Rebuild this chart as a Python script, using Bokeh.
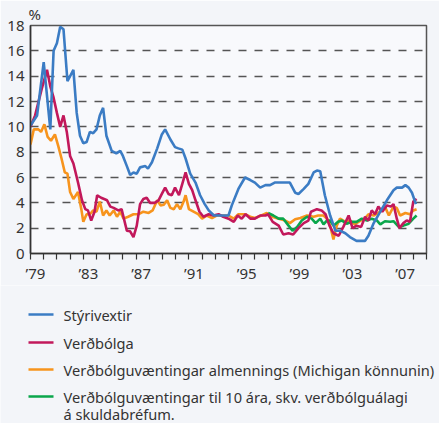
from bokeh.plotting import figure
from bokeh.models import Range1d, FixedTicker
from bokeh.layouts import column
from bokeh.embed import file_html
from bokeh.resources import INLINE
from bokeh.core.properties import value

FONT = "Noto Sans"

# ---- data ----
styri_x = [1979.0, 1979.5, 1980.0, 1980.5, 1980.75, 1981.0, 1981.25, 1981.5, 1981.8, 1982.25, 1982.5,
           1982.75, 1983.0, 1983.25, 1983.5, 1983.75, 1984.0, 1984.25, 1984.5, 1984.75, 1985.15, 1985.5,
           1985.8, 1986.0, 1986.3, 1986.55, 1986.8, 1987.05, 1987.3, 1987.7, 1987.9, 1988.2, 1988.6,
           1988.95, 1989.2, 1989.6, 1989.95, 1990.2, 1990.5, 1990.75, 1991.1, 1991.5, 1991.85, 1992.2,
           1992.5, 1992.9, 1994.0, 1994.25, 1994.75, 1995.25, 1995.65, 1996.0, 1996.4, 1996.8, 1997.15,
           1997.5, 1998.0, 1998.65, 1999.05, 1999.3, 1999.7, 2000.05, 2000.45, 2000.7, 2000.95, 2001.3,
           2001.7, 2002.1, 2002.45, 2002.85, 2003.2, 2003.7, 2004.35, 2004.6, 2005.0, 2005.5, 2006.0,
           2006.5, 2006.75, 2007.15, 2007.4, 2007.65, 2007.9, 2008.2]
styri_y = [10.1, 10.9, 15.1, 9.8, 16.0, 16.6, 17.9, 17.7, 13.6, 14.5, 11.1,
           9.3, 8.7, 8.8, 9.6, 9.5, 9.8, 10.9, 11.5, 9.3, 8.1, 7.9,
           8.1, 7.7, 6.9, 6.2, 6.4, 6.3, 6.8, 6.9, 6.7, 7.2, 8.3,
           9.4, 9.8, 9.0, 8.4, 8.3, 8.2, 7.5, 6.3, 5.6, 4.6, 3.9,
           3.4, 3.0, 3.0, 3.8, 5.1, 6.0, 5.8, 5.6, 5.2, 5.4, 5.4,
           5.6, 5.6, 5.6, 4.8, 4.7, 5.1, 5.5, 6.4, 6.55, 6.5, 4.6,
           3.0, 1.8, 1.8, 1.6, 1.3, 1.0, 1.0, 1.4, 2.4, 3.3, 4.2,
           5.0, 5.2, 5.2, 5.4, 5.2, 4.8, 3.9]

verdbolga_x = [1979.0, 1979.35, 1979.85, 1980.25, 1980.5, 1980.75, 1981.0, 1981.25, 1981.5, 1981.75,
               1982.0, 1982.25, 1982.6, 1982.9, 1983.15, 1983.35, 1983.6, 1983.85, 1984.05, 1984.35,
               1984.8, 1985.05, 1985.3, 1985.65, 1985.9, 1986.3, 1986.55, 1986.8, 1987.05, 1987.3,
               1987.55, 1987.8, 1988.05, 1988.4, 1988.7, 1988.95, 1989.2, 1989.45, 1989.7, 1989.95,
               1990.25, 1990.5, 1990.75, 1991.0, 1991.25, 1991.5, 1991.8, 1992.1, 1992.5, 1992.85,
               1993.25, 1993.6, 1994.0, 1994.4, 1994.7, 1995.0, 1995.3, 1995.65, 1996.0, 1996.4,
               1996.8, 1997.0, 1997.35, 1997.8, 1998.15, 1998.55, 1998.9, 1999.3, 1999.7, 2000.05,
               2000.25, 2000.7, 2001.05, 2001.35, 2001.65, 2001.95, 2002.35, 2002.7, 2003.1, 2003.4,
               2003.7, 2004.05, 2004.35, 2004.6, 2004.85, 2005.1, 2005.35, 2005.65, 2006.0, 2006.3,
               2006.5, 2006.75, 2006.95, 2007.25, 2007.5, 2007.75, 2008.0, 2008.25]
verdbolga_y = [10.0, 10.9, 13.0, 14.5, 13.2, 12.3, 11.1, 10.0, 10.9, 9.6,
               7.7, 7.1, 5.6, 4.2, 3.5, 3.4, 2.6, 3.3, 4.6, 4.4,
               4.2, 3.7, 3.6, 3.4, 3.5, 1.8, 1.75, 1.3, 2.2, 3.9,
               4.3, 4.4, 4.0, 4.0, 4.2, 4.7, 5.2, 4.7, 4.6, 5.2,
               4.6, 5.5, 6.4, 5.5, 5.0, 4.2, 3.3, 2.9, 3.1, 3.0,
               3.1, 2.9, 2.75, 2.5, 3.0, 2.75, 3.1, 2.75, 2.75, 3.0,
               3.0, 3.1, 2.5, 2.2, 1.5, 1.6, 1.5, 2.0, 2.4, 2.6,
               3.3, 3.5, 3.4, 3.1, 2.2, 1.6, 1.4, 2.1, 3.0, 2.0,
               2.2, 2.1, 2.9, 2.6, 3.4, 3.1, 3.7, 3.3, 3.8, 3.7,
               3.9, 2.75, 2.0, 2.4, 2.6, 2.5, 4.1, 4.3]

michigan_x = [1979.0, 1979.25, 1979.6, 1979.8, 1980.05, 1980.3, 1980.55, 1980.85, 1981.1, 1981.35,
              1981.6, 1981.8, 1982.0, 1982.25, 1982.6, 1982.85, 1983.0, 1983.25, 1983.5, 1983.75,
              1984.0, 1984.25, 1984.5, 1984.75, 1985.0, 1985.3, 1985.55, 1985.8, 1986.05, 1986.4,
              1986.8, 1987.2, 1987.55, 1987.95, 1988.25, 1988.6, 1988.85, 1989.1, 1989.35, 1989.6,
              1989.85, 1990.1, 1990.35, 1990.6, 1990.75, 1991.0, 1991.35, 1991.7, 1992.0, 1992.35,
              1992.75, 1993.1, 1993.5, 1994.0, 1994.4, 1994.75, 1995.25, 1995.65, 1996.0, 1996.5,
              1996.9, 1997.3, 1997.8, 1998.3, 1998.65, 1999.05, 1999.45, 1999.95, 2000.45, 2000.8,
              2001.2, 2001.45, 2001.7, 2001.95, 2002.2, 2002.45, 2002.85, 2003.2, 2003.55, 2003.85,
              2004.35, 2004.6, 2005.0, 2005.35, 2005.85, 2006.15, 2006.5, 2006.75, 2007.0, 2007.4,
              2007.75, 2008.0, 2008.25]
michigan_y = [8.6, 9.8, 9.8, 9.6, 10.2, 9.2, 8.9, 9.4, 8.5, 7.5,
              6.4, 6.3, 4.85, 4.3, 4.85, 3.5, 2.5, 3.1, 3.1, 3.4,
              3.3, 4.1, 3.0, 3.4, 3.0, 3.4, 2.9, 3.3, 2.75, 2.9,
              3.1, 3.1, 3.3, 3.2, 3.4, 4.2, 3.8, 3.85, 4.2, 3.6,
              3.5, 3.9, 3.5, 4.1, 4.6, 3.5, 3.3, 3.1, 2.75, 3.0,
              2.8, 3.0, 3.0, 3.0, 2.75, 3.1, 3.1, 2.9, 2.8, 3.0,
              3.2, 2.9, 2.75, 2.6, 2.4, 2.7, 2.8, 3.0, 2.9, 3.0,
              3.0, 2.75, 2.2, 1.1, 2.2, 2.75, 2.5, 2.6, 2.3, 2.5,
              2.8, 3.1, 3.0, 3.2, 3.7, 3.0, 3.7, 3.6, 3.0, 3.2,
              3.1, 3.4, 3.5]

skulda_x = [1997.0, 1997.4, 1997.8, 1998.15, 1998.55, 1998.85, 1999.2, 1999.55, 1999.95, 2000.3,
            2000.6, 2000.95, 2001.2, 2001.45, 2001.7, 2001.95, 2002.3, 2002.6, 2002.95, 2003.35,
            2003.7, 2004.1, 2004.5, 2004.85, 2005.25, 2005.5, 2005.85, 2006.25, 2006.5, 2006.9,
            2007.25, 2007.65, 2008.0, 2008.25]
skulda_y = [3.2, 3.0, 2.75, 2.75, 2.2, 1.8, 2.1, 2.6, 2.9, 2.75,
            2.4, 2.75, 2.3, 2.6, 2.6, 2.2, 2.5, 2.6, 2.35, 2.5,
            2.5, 2.75, 2.6, 2.75, 2.6, 2.3, 2.55, 2.5, 2.55, 2.1,
            2.2, 2.35, 2.75, 3.0]

year_ticks = list(range(1979, 2010))
label_years = [1979, 1983, 1987, 1991, 1995, 1999, 2003, 2007]
y_ticks = [0, 2, 4, 6, 8, 10, 12, 14, 16, 18]
grid_ticks = [2, 4, 6, 8, 10, 12, 14, 16]

series_names = ["Stýrivextir", "Verðbólga",
                "Verðbólguvæntingar almennings (Michigan könnunin)",
                "Verðbólguvæntingar til 10 ára, skv. verðbólguálagi"]
series_extra_line = "á skuldabréfum."
unit_label = "%"

BLUE = "#3b7cc4"
RED = "#c2185b"
ORANGE = "#f7941d"
GREEN = "#0aa64b"
TEXT = "#333333"
BG = "#f3f5f9"
PLOT_BG = "#f8f9fc"

# ---- chart ----
p = figure(width=439, height=285, x_range=Range1d(1979, 2009), y_range=Range1d(0, 18),
           output_backend="svg", toolbar_location=None,
           min_border_left=30, min_border_right=13, min_border_top=25, min_border_bottom=30)
p.border_fill_color = BG
p.background_fill_color = PLOT_BG
p.outline_line_color = "#555555"
p.outline_line_width = 1.5

p.title.text = unit_label
p.title.align = "left"
p.title.offset = -2
p.title.standoff = 3
p.title.text_font = FONT
p.title.text_font_size = "15px"
p.title.text_font_style = "normal"
p.title.text_color = TEXT

offset = 0.38
p.xaxis.ticker = FixedTicker(ticks=[y + offset for y in label_years], minor_ticks=year_ticks)
p.xaxis.major_label_overrides = {y + offset: "\u2019" + str(y)[2:] for y in label_years}
p.xaxis.major_tick_out = 0
p.xaxis.major_tick_in = 0
p.xaxis.minor_tick_out = 6
p.xaxis.minor_tick_in = 0
p.xaxis.minor_tick_line_color = "#333333"
p.xaxis.minor_tick_line_width = 1.2
p.xaxis.axis_line_color = "#333333"
p.xaxis.axis_line_width = 1.5
p.xaxis.major_label_standoff = 3
p.xaxis.major_label_text_font = FONT
p.xaxis.major_label_text_font_size = "15px"
p.xaxis.major_label_text_color = TEXT

p.yaxis.ticker = FixedTicker(ticks=y_ticks)
p.yaxis.major_tick_out = 0
p.yaxis.major_tick_in = 0
p.yaxis.minor_tick_out = 0
p.yaxis.minor_tick_in = 0
p.yaxis.axis_line_color = "#333333"
p.yaxis.axis_line_width = 1.5
p.yaxis.major_label_standoff = 6
p.yaxis.major_label_text_font = FONT
p.yaxis.major_label_text_font_size = "15px"
p.yaxis.major_label_text_color = TEXT

p.xgrid.visible = False
p.ygrid.ticker = FixedTicker(ticks=grid_ticks)
p.ygrid.grid_line_color = "#555555"
p.ygrid.grid_line_dash = "8 8"
p.ygrid.grid_line_width = 1.3

LW = 2.6
p.line(michigan_x, michigan_y, line_color=ORANGE, line_width=LW)
p.line(skulda_x, skulda_y, line_color=GREEN, line_width=LW)
p.line(verdbolga_x, verdbolga_y, line_color=RED, line_width=LW)
p.line(styri_x, styri_y, line_color=BLUE, line_width=LW)

# ---- legend panel ----
leg = figure(width=439, height=138, x_range=Range1d(0, 439), y_range=Range1d(138, 0),
             x_axis_type=None, y_axis_type=None,
             output_backend="svg", toolbar_location=None,
             min_border=0, min_border_left=0, min_border_right=0,
             min_border_top=0, min_border_bottom=0)
if "frame_align" in leg.properties():
    leg.frame_align = False
    p.frame_align = False
leg.grid.visible = False
leg.outline_line_color = None
leg.border_fill_color = BG
leg.background_fill_color = BG

colors = [BLUE, RED, ORANGE, GREEN]
rows = [29, 57, 84, 111]
leg.segment(x0=[28] * 4, y0=rows, x1=[53] * 4, y1=rows, line_color=colors, line_width=2.6)
leg.text(x=[63] * 5, y=rows + [128], text=series_names + [series_extra_line],
         text_font=value(FONT), text_font_size="14.6px", text_color=TEXT,
         text_baseline="middle", text_align="left")

layout = column(p, leg, spacing=0)
html = file_html(layout, INLINE)
html = html.replace("</head>", "<style>html,body{margin:0;padding:0;}</style></head>")
open("out.html", "w").write(html)
